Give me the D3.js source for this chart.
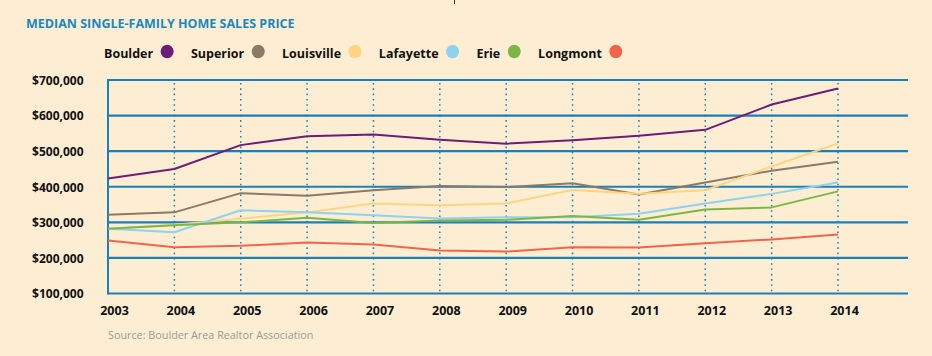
<!DOCTYPE html>
<html>
<head>
<meta charset="utf-8">
<script src="https://cdn.jsdelivr.net/npm/d3@7"></script>
<style>
  html, body { margin: 0; padding: 0; background: #fdeed3; }
  svg { display: block; }
  text { font-family: "Open Sans", sans-serif; }
</style>
</head>
<body>
<svg id="chart" width="932" height="356"></svg>
<script>
const years = [2003, 2004, 2005, 2006, 2007, 2008, 2009, 2010, 2011, 2012, 2013, 2014];
const seriesNames = ["Boulder", "Superior", "Louisville", "Lafayette", "Erie", "Longmont"];
const seriesColors = ["#6c1d77", "#8a7a68", "#fdd580", "#8ed2ee", "#7cb744", "#f0654a"];
const boulder    = [423000, 450000, 517000, 542000, 547000, 532000, 521000, 531000, 543000, 560000, 631000, 676000];
const superior   = [321000, 328000, 382000, 375000, 390000, 402000, 399000, 410000, 378000, 412000, 445000, 470000];
const louisville = [282000, 293000, 310000, 328000, 353000, 348000, 353000, 391000, 380000, 390000, 457000, 522000];
const lafayette  = [282000, 272000, 334000, 328000, 320000, 311000, 314000, 314000, 324000, 353000, 380000, 412000];
const erie       = [282000, 292000, 300000, 313000, 298000, 305000, 307000, 318000, 307000, 336000, 342000, 387000];
const longmont   = [249000, 230000, 234000, 243000, 238000, 221000, 218000, 230000, 229000, 241000, 252000, 266000];
const yTicks = [100000, 200000, 300000, 400000, 500000, 600000, 700000];
const titleText = "MEDIAN SINGLE-FAMILY HOME SALES PRICE";
const sourceText = "Source: Boulder Area Realtor Association";

const seriesValues = [boulder, superior, louisville, lafayette, erie, longmont];
const series = seriesNames.map((n, i) => ({ name: n, color: seriesColors[i], values: seriesValues[i] }));

const svg = d3.select("#chart");
const blue = "#1b7fb8";

const plotLeft = 108, plotRight = 908, lastX = 838;
const x = d3.scaleLinear().domain([years[0], years[years.length - 1]]).range([plotLeft, lastX]);
const y = d3.scaleLinear().domain([100000, 700000]).range([293.5, 80]);

// small artifact tick at top
svg.append("line").attr("x1", 454.5).attr("x2", 454.5).attr("y1", 0).attr("y2", 4)
  .attr("stroke", "#333").attr("stroke-width", 1);

// title
svg.append("text").attr("x", 26).attr("y", 28)
  .attr("font-size", 12.5).attr("font-weight", 700).attr("fill", "#1b87c0")
  .text(titleText);

// legend
const legend = svg.append("g");
let cx = 104;
series.forEach(s => {
  const t = legend.append("text").attr("x", cx).attr("y", 57.5)
    .attr("font-size", 12.5).attr("font-weight", 700).attr("fill", "#111")
    .text(s.name);
  const w = t.node().getComputedTextLength();
  const ccx = cx + w + 7.5 + 6.5;
  legend.append("ellipse").attr("cx", ccx).attr("cy", 51.5).attr("rx", 6.5).attr("ry", 6.8)
    .attr("fill", s.color);
  cx = ccx + 6.5 + 17.3;
});

// horizontal gridlines
svg.append("g").selectAll("line").data(yTicks).join("line")
  .attr("x1", plotLeft).attr("x2", plotRight)
  .attr("y1", d => y(d)).attr("y2", d => y(d))
  .attr("stroke", blue).attr("stroke-width", 2.2);

// left axis line
svg.append("line").attr("x1", plotLeft).attr("x2", plotLeft)
  .attr("y1", y(700000) - 1).attr("y2", y(100000) + 1)
  .attr("stroke", blue).attr("stroke-width", 2);

// dotted verticals
svg.append("g").selectAll("line").data(years.slice(1)).join("line")
  .attr("x1", d => x(d)).attr("x2", d => x(d))
  .attr("y1", y(700000) + 3).attr("y2", y(100000) - 2)
  .attr("stroke", blue).attr("stroke-width", 1.5)
  .attr("stroke-dasharray", "1.6,3.7");

// y axis labels
const yAxis = d3.axisLeft(y).tickValues(yTicks).tickSize(0).tickPadding(0)
  .tickFormat(d => "$" + d3.format(",")(d));
const yg = svg.append("g").attr("transform", "translate(83.5,0)").call(yAxis);
yg.select(".domain").remove();
yg.selectAll("text").attr("font-family", "Open Sans").attr("font-size", 12)
  .attr("font-weight", 700).attr("fill", "#111").attr("dy", "0.36em");

// x axis labels
const xAxis = d3.axisBottom(x).tickValues(years).tickSize(0).tickPadding(0)
  .tickFormat(d3.format("d"));
const xg = svg.append("g").attr("transform", "translate(6,306)").call(xAxis);
xg.select(".domain").remove();
xg.selectAll("text").attr("font-family", "Open Sans").attr("font-size", 12.5)
  .attr("font-weight", 700).attr("fill", "#111").attr("dy", "0.71em");

// lines
const line = d3.line().x((d, i) => x(years[i])).y(d => y(d));
svg.append("g").selectAll("path").data(series).join("path")
  .attr("d", d => line(d.values))
  .attr("fill", "none").attr("stroke", d => d.color)
  .attr("stroke-width", 2).attr("stroke-linejoin", "round");

// source
svg.append("text").attr("x", 108).attr("y", 339)
  .attr("font-size", 10.8).attr("fill", "#9a9a9a")
  .text(sourceText);
</script>
</body>
</html>
